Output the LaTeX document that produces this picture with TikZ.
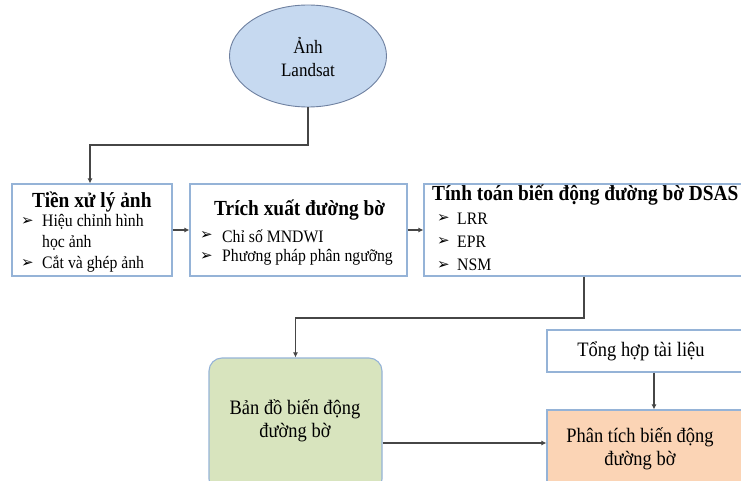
\documentclass[tikz,border=0pt]{standalone}
\usepackage{fontspec}
\setmainfont[FakeStretch=0.9]{Liberation Serif}
\newfontfamily\symfont{DejaVu Sans}
\usetikzlibrary{shapes.geometric,arrows.meta}
\definecolor{ellfill}{RGB}{198,217,240}
\definecolor{elldraw}{RGB}{110,128,160}
\definecolor{boxdraw}{RGB}{149,179,215}
\definecolor{greenfill}{RGB}{216,228,190}
\definecolor{orangefill}{RGB}{251,212,181}
\definecolor{conncol}{RGB}{70,70,70}
\begin{document}
\begin{tikzpicture}[x=1pt,y=-1pt,
  box/.style={draw=boxdraw, line width=1.1pt, fill=white, inner sep=0pt},
  conn/.style={draw=conncol, line width=1.3pt},
  arr/.style={conn, -{Latex[length=5pt,width=5pt]}},
  ttl/.style={font=\bfseries\fontsize{21.5}{24}\selectfont, anchor=west, inner sep=0pt},
  itm/.style={font=\fontsize{17.5}{21}\selectfont, anchor=west, inner sep=0pt},
  bul/.style={font=\symfont\bfseries\fontsize{15}{17}\selectfont, anchor=west, inner sep=0pt},
  big/.style={font=\fontsize{20.5}{23}\selectfont, align=center, inner sep=0pt}]
\useasboundingbox (0,0) rectangle (741,481);
\clip (0,0) rectangle (741,481);
% ellipse
\node[ellipse, draw=elldraw, fill=ellfill, line width=0.9pt, minimum width=157pt, minimum height=102pt] (img) at (308,56) {};
\node[big, font=\fontsize{18.9}{23}\selectfont] (imgt) at (308,57) {Ảnh\\Landsat};
% boxes row
\node[box, minimum width=160pt, minimum height=92pt] (b1) at (92,230) {};
\node[box, minimum width=217pt, minimum height=92pt] (b2) at (298.5,230) {};
\node[box, minimum width=346pt, minimum height=92pt] (b3) at (597,230) {};
% box1 text
\node[ttl] (t1) at (32,202) {Tiền xử lý ảnh};
\node[bul] (p11) at (21,222) {➢};
\node[itm] (i11) at (42,222) {Hiệu chỉnh hình};
\node[itm] (i12) at (42,243) {học ảnh};
\node[bul] (p12) at (21,264) {➢};
\node[itm] (i13) at (42,264) {Cắt và ghép ảnh};
% box2 text
\node[ttl] (t2) at (214,210) {Trích xuất đường bờ};
\node[bul] (p21) at (200,236) {➢};
\node[itm] (i21) at (222,236) {Chỉ số MNDWI};
\node[bul] (p22) at (200,257) {➢};
\node[itm] (i22) at (222,257) {Phương pháp phân ngưỡng};
% box3 text
\node[ttl] (t3) at (432,195) {Tính toán biến động đường bờ DSAS};
\node[bul] (p31) at (437,219) {➢};
\node[itm] (i31) at (457,219) {LRR};
\node[bul] (p32) at (437,242) {➢};
\node[itm] (i32) at (457,242) {EPR};
\node[bul] (p33) at (437,265) {➢};
\node[itm] (i33) at (457,265) {NSM};
% lower boxes
\node[box, fill=greenfill, rounded corners=13pt, minimum width=173pt, minimum height=134pt] (g) at (295.5,425) {};
\node[big] (gt) at (295,421) {Bản đồ biến động\\đường bờ};
\node[box, minimum width=223pt, minimum height=42pt] (th) at (658.5,351) {};
\node[big] (tht) at (641,351) {Tổng hợp tài liệu};
\node[box, fill=orangefill, minimum width=223pt, minimum height=100pt] (o) at (658.5,460) {};
\node[big] (ot) at (640,449) {Phân tích biến động\\đường bờ};
% connectors
\coordinate (k1) at (90,145);
\draw[arr] (img.south) -- (img.south |- k1) -- (k1) -- (k1 |- b1.north);
\draw[arr] (b1.east) -- (b2.west);
\draw[arr] (b2.east) -- (b3.west);
\coordinate (k2) at (584,318);
\draw[arr] (k2 |- b3.south) -- (k2) -- (k2 -| g.north) -- (g.north);
\coordinate (k3) at (654,372);
\draw[arr] (k3 |- th.south) -- (k3 |- o.north);
\coordinate (k4) at (0,443);
\draw[arr] (g.east |- k4) -- (o.west |- k4);
\end{tikzpicture}
\end{document}
